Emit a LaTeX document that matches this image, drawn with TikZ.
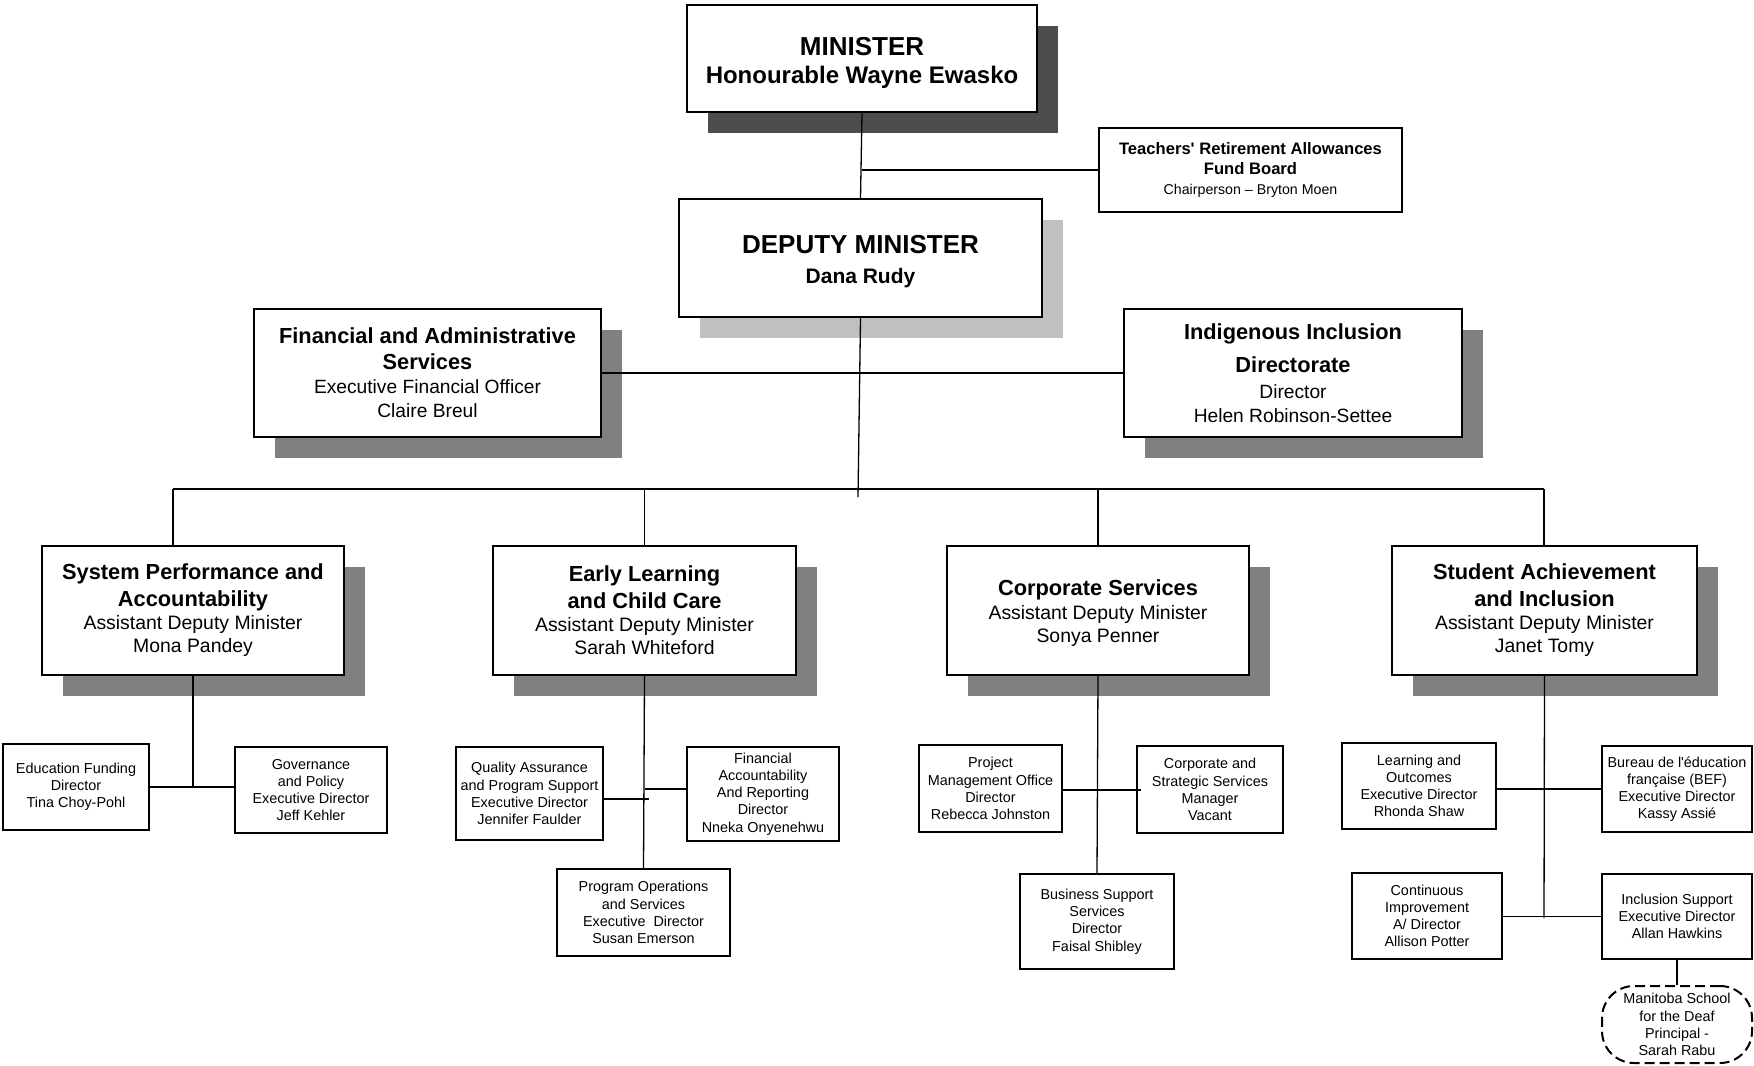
\documentclass[tikz,border=0pt]{standalone}
\usepackage{fontspec}
\setmainfont{Liberation Sans}
\usetikzlibrary{shadows}
\definecolor{shdark}{HTML}{4D4D4D}
\definecolor{shmid}{HTML}{808080}
\definecolor{shlight}{HTML}{C0C0C0}
\newcommand\hdrA[1]{{\fontsize{10.9}{12}\selectfont\bfseries #1}}
\newcommand\hdrT[1]{{\fontsize{8.3}{8}\selectfont\bfseries #1}}
\begin{document}
\begin{tikzpicture}[x=0.5pt,y=-0.5pt,
  bx/.style={draw, line width=1pt, fill=white, inner sep=0pt, align=center},
  wh/.style 2 args={minimum width=#1*0.5pt, minimum height=#2*0.5pt},
  shd/.style={general shadow={fill=#1, shadow xshift=10.5pt, shadow yshift=-10.5pt}},
  conn/.style={line width=0.65pt},
  ftop/.style={font=\fontsize{12}{14}\selectfont\bfseries},
  fdm/.style={font=\fontsize{10.5}{15}\selectfont\bfseries},
  ftr/.style={font=\fontsize{7.1}{7}\selectfont},
  f2/.style={font=\fontsize{9.6}{12}\selectfont},
  f3/.style={font=\fontsize{9.7}{11.5}\selectfont},
  f4/.style={font=\fontsize{7.2}{8.6}\selectfont},
  dashbox/.style={draw, line width=1pt, dash pattern=on 5pt off 2.5pt, rounded corners=16pt, fill=white, inner sep=0pt, align=center}
]
\useasboundingbox (0,0) rectangle (1754,1065);

% top levels
\node[bx, shd=shdark, wh={350}{107}, ftop] (min) at (862,58.5)
  {\rule{0pt}{13pt}{\fontsize{13}{14}\selectfont MINISTER}\\Honourable Wayne Ewasko};
\node[bx, wh={303}{84}, ftr] (trafb) at (1250.5,170)
  {\hdrT{Teachers\textquotesingle{} Retirement Allowances}\\[3pt]\hdrT{Fund Board}\\[3pt]Chairperson – Bryton Moen};
\node[bx, shd=shlight, wh={363}{118}, fdm] (dm) at (860.5,258)
  {\rule{0pt}{13pt}{\fontsize{13}{15}\selectfont DEPUTY MINISTER}\\Dana Rudy};
\node[bx, shd=shmid, wh={347}{128}, f2] (fas) at (427.5,373)
  {\hdrA{Financial and Administrative}\\[1pt]\hdrA{Services}\\Executive Financial Officer\\Claire Breul};
\node[bx, shd=shmid, wh={338}{128}, f2] (iid) at (1293,373)
  {\hdrA{Indigenous Inclusion}\\[4.5pt]\hdrA{Directorate}\\[1pt]Director\\Helen Robinson-Settee};

% level 3
\node[bx, shd=shmid, wh={302}{129}, f3] (spa) at (193,610.5)
  {\hdrA{System Performance and}\\[2pt]\hdrA{Accountability}\\Assistant Deputy Minister\\Mona Pandey};
\node[bx, shd=shmid, wh={303}{129}, f3] (elcc) at (644.5,610.5)
  {\hdrA{Early Learning}\\[2pt]\hdrA{and Child Care}\\Assistant Deputy Minister\\Sarah Whiteford};
\node[bx, shd=shmid, wh={302}{129}, f3] (cs) at (1098,610.5)
  {\rule{0pt}{10.5pt}\hdrA{Corporate Services}\\[0.5pt]Assistant Deputy Minister\\Sonya Penner};
\node[bx, shd=shmid, wh={305}{129}, f3] (sai) at (1544.5,610.5)
  {\hdrA{Student Achievement}\\[2pt]\hdrA{and Inclusion}\\Assistant Deputy Minister\\Janet Tomy};

% level 4
\node[bx, wh={146}{86}, f4] (ef) at (76,787) {Education Funding\\Director\\Tina Choy-Pohl};
\node[bx, wh={152}{86}, f4] (gp) at (311,790) {Governance\\and Policy\\Executive Director\\Jeff Kehler};
\node[bx, wh={147}{93}, f4] (qa) at (529.5,793.5) {Quality Assurance\\and Program Support\\Executive Director\\Jennifer Faulder};
\node[bx, wh={152}{94}, f4] (fa) at (763,794) {Financial\\Accountability\\And Reporting\\Director\\Nneka Onyenehwu};
\node[bx, wh={173}{87}, f4] (po) at (643.5,912.5) {Program Operations\\and Services\\Executive\ \ Director\\Susan Emerson};
\node[bx, wh={143}{87}, f4] (pmo) at (990.5,788.5) {Project\\Management Office\\Director\\Rebecca Johnston};
\node[bx, wh={146}{87}, f4] (css) at (1210,789.5) {Corporate and\\Strategic Services\\Manager\\Vacant};
\node[bx, wh={154}{95}, f4] (bss) at (1097,921.5) {Business Support\\Services\\Director\\Faisal Shibley};
\node[bx, wh={154}{86}, f4] (lo) at (1419,786) {Learning and\\Outcomes\\Executive Director\\Rhonda Shaw};
\node[bx, wh={150}{86}, f4] (bef) at (1677,789) {Bureau de l\textquotesingle éducation\\française (BEF)\\Executive Director\\Kassy Assié};
\node[bx, wh={150}{86}, f4] (ci) at (1427,916) {Continuous\\Improvement\\A/ Director\\Allison Potter};
\node[bx, wh={150}{85}, f4] (is) at (1677,916.5) {Inclusion Support\\Executive Director\\Allan Hawkins};
\node[dashbox, wh={150}{77}, f4] (msd) at (1677,1024.5) {Manitoba School\\for the Deaf\\Principal -\\Sarah Rabu};

% coordinates
\coordinate (dmend) at (858,497);
\coordinate (busL) at (173,489);
\coordinate (busR) at (1544,489);
\coordinate (faj) at (645,789);
\coordinate (qaj) at (649,799);
\coordinate (pj) at (1141,790);
\coordinate (saiend) at (1544,918);

% connectors
\begin{scope}[conn]
\draw (min.south) -- (dm.north);
\draw (trafb.west) -- (trafb.west -| min.south);
\draw (fas.east) -- (iid.west);
\draw (dm.south) -- (dmend);
\draw (busL) -- (busR);
\draw (busL) -- (busL |- spa.north);
\draw (elcc.north |- busL) -- (elcc.north);
\draw (cs.north |- busL) -- (cs.north);
\draw (busR) -- (busR |- sai.north);
\draw (spa.south) -- (spa.south |- ef.east);
\draw (ef.east) -- (ef.east -| gp.west);
\draw (elcc.south) -- (po.north);
\draw (faj) -- (faj -| fa.west);
\draw (qaj -| qa.east) -- (qaj);
\draw (cs.south) -- (bss.north);
\draw (pj -| pmo.east) -- (pj);
\draw (sai.south) -- (saiend);
\draw (lo.east |- bef.west) -- (bef.west);
\draw (ci.east |- is.west) -- (is.west);
\draw (is.south) -- (msd.north);
\end{scope}
\end{tikzpicture}
\end{document}
